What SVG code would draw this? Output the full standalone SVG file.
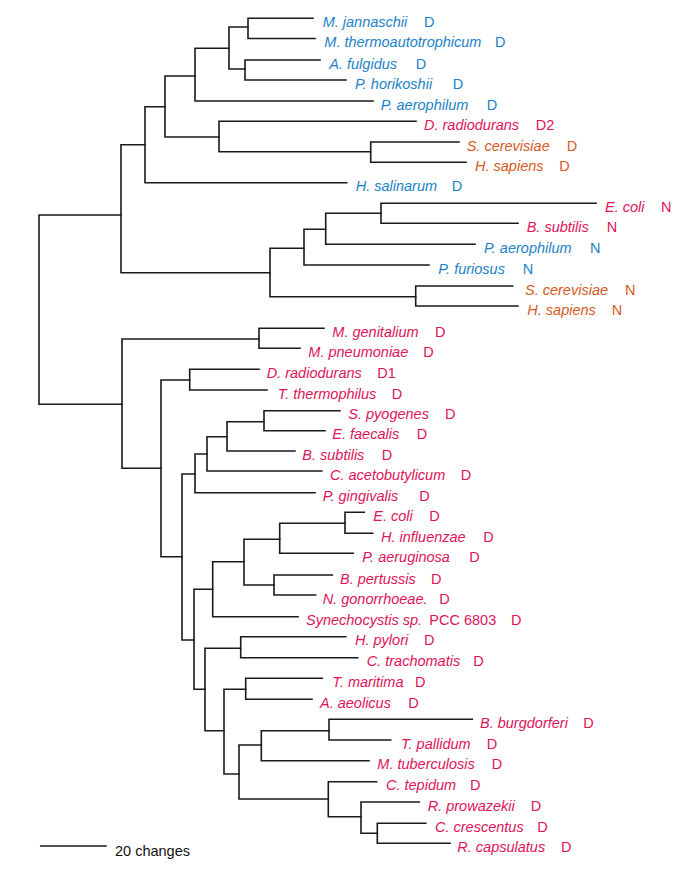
<svg xmlns="http://www.w3.org/2000/svg" width="677" height="870" viewBox="0 0 677 870">
<style>
.e{fill:none;stroke:#1a1a1a;stroke-width:1.6;stroke-linecap:square}
text{font-family:"Liberation Sans",Arial,sans-serif;font-size:14.5px}
.n{font-style:italic}
.b{fill:#1c82c8}
.r{fill:#de1459}
.o{fill:#d65a22}
.k{fill:#111}
</style>
<rect width="677" height="870" fill="#fff"/>
<g id="connectors" class="e">
<path d="M39 215V404.3M39 215H121M39 404.3H122"/>
<path d="M121 144.7V272.7M121 144.7H145M121 272.7H270"/>
<path d="M145 106.7V182.7M145 106.7H165M145 182.7H346.7"/>
<path d="M165 76V137M165 76H195M165 137H219"/>
<path d="M195 48.3V101M195 48.3H229M195 101H373"/>
<path d="M229 27V69M229 27H248M229 69H245"/>
<path d="M248 18.3V38.5M248 18.3H313M248 38.5H315"/>
<path d="M245 60V80M245 60H320M245 80H346"/>
<path d="M219 121.3V151.7M219 121.3H416M219 151.7H370.7"/>
<path d="M370.7 142V162.3M370.7 142H459M370.7 162.3H466"/>
<path d="M270 248.3V296.7M270 248.3H304M270 296.7H415.7"/>
<path d="M304 229.3V265M304 229.3H325.7M304 265H429"/>
<path d="M325.7 213.3V244.3M325.7 213.3H381M325.7 244.3H475"/>
<path d="M381 203.3V223.3M381 203.3H596M381 223.3H518"/>
<path d="M415.7 286V306M415.7 286H512.7M415.7 306H518"/>
<path d="M122 339V468.3M122 339H259M122 468.3H161"/>
<path d="M259 328.3V348.3M259 328.3H324M259 348.3H300"/>
<path d="M161 380V556.7M161 380H189.7M161 556.7H182"/>
<path d="M189.7 369.3V390M189.7 369.3H259M189.7 390H267"/>
<path d="M182 474V640M182 474H195M182 640H194"/>
<path d="M195 454V492.7M195 454H207M195 492.7H315"/>
<path d="M207 436.7V471M207 436.7H227M207 471H321.7"/>
<path d="M227 421.7V451M227 421.7H264M227 451H295"/>
<path d="M264 410.7V430.7M264 410.7H340M264 430.7H325"/>
<path d="M194 589.3V689.3M194 589.3H212.7M194 689.3H205"/>
<path d="M212.7 561.7V616.7M212.7 561.7H244M212.7 616.7H298"/>
<path d="M244 539.3V585M244 539.3H279.7M244 585H274"/>
<path d="M279.7 523.3V553.3M279.7 523.3H345M279.7 553.3H353.3"/>
<path d="M345 512.3V533.3M345 512.3H364.3M345 533.3H372.7"/>
<path d="M274 575V595M274 575H332.3M274 595H315.7"/>
<path d="M205 648.3V730.7M205 648.3H240.7M205 730.7H224"/>
<path d="M240.7 636.7V657.7M240.7 636.7H345.7M240.7 657.7H357.7"/>
<path d="M224 689.3V774M224 689.3H245.7M224 774H239"/>
<path d="M245.7 678.3V699.3M245.7 678.3H322.3M245.7 699.3H312"/>
<path d="M239 745V799M239 745H261.3M239 799H328.3"/>
<path d="M261.3 730.7V760.7M261.3 730.7H329M261.3 760.7H369"/>
<path d="M329 719.3V740M329 719.3H472.3M329 740H390.7"/>
<path d="M328.3 781.7V816.7M328.3 781.7H376.7M328.3 816.7H361"/>
<path d="M361 802V833.3M361 802H419.3M361 833.3H377.3"/>
<path d="M377.3 823.3V843.3M377.3 823.3H425.7M377.3 843.3H450"/>
</g>
<g id="leaf-mjannaschii" class="b"><text class="n" x="322.7" y="26.8">M. jannaschii</text><text x="424" y="26.8">D</text></g>
<g id="leaf-mthermo" class="b"><text class="n" x="324.3" y="47">M. thermoautotrophicum</text><text x="495" y="47">D</text></g>
<g id="leaf-afulgidus" class="b"><text class="n" x="329.3" y="68.5">A. fulgidus</text><text x="415.7" y="68.5">D</text></g>
<g id="leaf-phorikoshii" class="b"><text class="n" x="355" y="88.5">P. horikoshii</text><text x="452.7" y="88.5">D</text></g>
<g id="leaf-paerophilum-d" class="b"><text class="n" x="380.7" y="109.5">P. aerophilum</text><text x="486.7" y="109.5">D</text></g>
<g id="leaf-dradiodurans-d2" class="r"><text class="n" x="424" y="129.8">D. radiodurans</text><text x="535.7" y="129.8">D2</text></g>
<g id="leaf-scerevisiae-d" class="o"><text class="n" x="466.7" y="150.5">S. cerevisiae</text><text x="566.7" y="150.5">D</text></g>
<g id="leaf-hsapiens-d" class="o"><text class="n" x="475" y="170.8">H. sapiens</text><text x="559.3" y="170.8">D</text></g>
<g id="leaf-hsalinarum" class="b"><text class="n" x="355.7" y="191.2">H. salinarum</text><text x="451.7" y="191.2">D</text></g>
<g id="leaf-ecoli-n" class="r"><text class="n" x="605" y="211.8">E. coli</text><text x="661" y="211.8">N</text></g>
<g id="leaf-bsubtilis-n" class="r"><text class="n" x="526.7" y="231.8">B. subtilis</text><text x="606.7" y="231.8">N</text></g>
<g id="leaf-paerophilum-n" class="b"><text class="n" x="484" y="252.8">P. aerophilum</text><text x="590" y="252.8">N</text></g>
<g id="leaf-pfuriosus" class="b"><text class="n" x="438.3" y="273.5">P. furiosus</text><text x="522.7" y="273.5">N</text></g>
<g id="leaf-scerevisiae-n" class="o"><text class="n" x="525" y="294.5">S. cerevisiae</text><text x="625" y="294.5">N</text></g>
<g id="leaf-hsapiens-n" class="o"><text class="n" x="527.3" y="314.5">H. sapiens</text><text x="611.7" y="314.5">N</text></g>
<g id="leaf-mgenitalium" class="r"><text class="n" x="332.3" y="336.8">M. genitalium</text><text x="435" y="336.8">D</text></g>
<g id="leaf-mpneumoniae" class="r"><text class="n" x="308.3" y="356.8">M. pneumoniae</text><text x="423.3" y="356.8">D</text></g>
<g id="leaf-dradiodurans-d1" class="r"><text class="n" x="266.7" y="377.8">D. radiodurans</text><text x="377.3" y="377.8">D1</text></g>
<g id="leaf-tthermophilus" class="r"><text class="n" x="277.7" y="398.5">T. thermophilus</text><text x="391.7" y="398.5">D</text></g>
<g id="leaf-spyogenes" class="r"><text class="n" x="348.3" y="419.2">S. pyogenes</text><text x="445" y="419.2">D</text></g>
<g id="leaf-efaecalis" class="r"><text class="n" x="332.3" y="439.2">E. faecalis</text><text x="416.7" y="439.2">D</text></g>
<g id="leaf-bsubtilis-d" class="r"><text class="n" x="302.3" y="459.5">B. subtilis</text><text x="381.7" y="459.5">D</text></g>
<g id="leaf-cacetobutylicum" class="r"><text class="n" x="330" y="479.5">C. acetobutylicum</text><text x="460.7" y="479.5">D</text></g>
<g id="leaf-pgingivalis" class="r"><text class="n" x="322.7" y="501.2">P. gingivalis</text><text x="419.3" y="501.2">D</text></g>
<g id="leaf-ecoli-d" class="r"><text class="n" x="373.3" y="520.8">E. coli</text><text x="429.3" y="520.8">D</text></g>
<g id="leaf-hinfluenzae" class="r"><text class="n" x="381" y="541.8">H. influenzae</text><text x="483.3" y="541.8">D</text></g>
<g id="leaf-paeruginosa" class="r"><text class="n" x="362.3" y="561.8">P. aeruginosa</text><text x="469.3" y="561.8">D</text></g>
<g id="leaf-bpertussis" class="r"><text class="n" x="340" y="583.5">B. pertussis</text><text x="431" y="583.5">D</text></g>
<g id="leaf-ngonorrhoeae" class="r"><text class="n" x="322.7" y="603.5">N. gonorrhoeae.</text><text x="439.3" y="603.5">D</text></g>
<g id="leaf-synechocystis" class="r"><text class="n" x="306" y="625.2">Synechocystis sp.</text><text x="429.3" y="625.2">PCC 6803</text><text x="511" y="625.2">D</text></g>
<g id="leaf-hpylori" class="r"><text class="n" x="355" y="645.2">H. pylori</text><text x="424" y="645.2">D</text></g>
<g id="leaf-ctrachomatis" class="r"><text class="n" x="366.7" y="666.2">C. trachomatis</text><text x="473.3" y="666.2">D</text></g>
<g id="leaf-tmaritima" class="r"><text class="n" x="332.3" y="686.8">T. maritima</text><text x="415" y="686.8">D</text></g>
<g id="leaf-aaeolicus" class="r"><text class="n" x="320" y="707.8">A. aeolicus</text><text x="408.3" y="707.8">D</text></g>
<g id="leaf-bburgdorferi" class="r"><text class="n" x="480" y="727.8">B. burgdorferi</text><text x="583.3" y="727.8">D</text></g>
<g id="leaf-tpallidum" class="r"><text class="n" x="401" y="748.5">T. pallidum</text><text x="486.7" y="748.5">D</text></g>
<g id="leaf-mtuberculosis" class="r"><text class="n" x="377.3" y="769.2">M. tuberculosis</text><text x="491.7" y="769.2">D</text></g>
<g id="leaf-ctepidum" class="r"><text class="n" x="386" y="790.2">C. tepidum</text><text x="470" y="790.2">D</text></g>
<g id="leaf-rprowazekii" class="r"><text class="n" x="427.7" y="810.5">R. prowazekii</text><text x="530.7" y="810.5">D</text></g>
<g id="leaf-ccrescentus" class="r"><text class="n" x="435" y="831.8">C. crescentus</text><text x="537.3" y="831.8">D</text></g>
<g id="leaf-rcapsulatus" class="r"><text class="n" x="457.3" y="851.8">R. capsulatus</text><text x="561" y="851.8">D</text></g>
<g id="scale-bar">
<path class="e" d="M40.7 846H106"/>
<text class="k" x="115" y="856">20 changes</text>
</g>
</svg>
